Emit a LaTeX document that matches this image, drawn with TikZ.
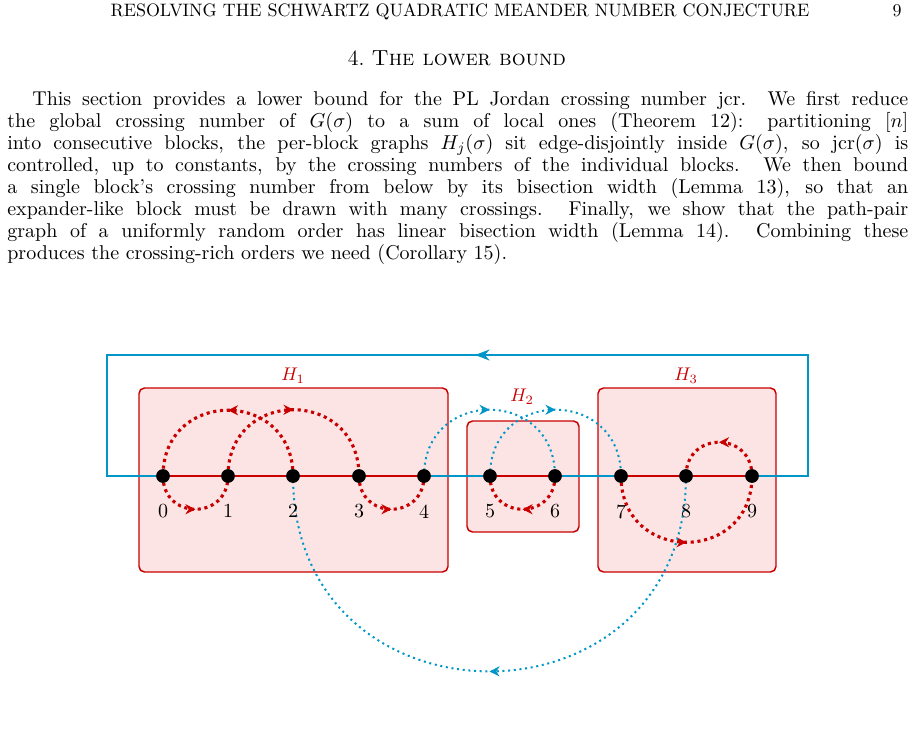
\documentclass[tikz,border=0pt]{standalone}
\usetikzlibrary{arrows.meta,decorations.markings}
\definecolor{hred}{RGB}{200,0,0}
\definecolor{hpink}{RGB}{253,228,228}
\definecolor{hblue}{RGB}{0,150,200}
\tikzset{
  vertex/.style={circle, fill=black, minimum size=7.5pt, inner sep=0pt},
  block/.style={draw=hred, fill=hpink, line width=0.8pt, rounded corners=3pt},
  midarrow/.style={postaction={decorate}, decoration={markings, mark=at position 0.5 with {\arrow[solid]{Stealth[length=5.5pt,width=5.5pt]}}}},
  redarc/.style={hred, line width=1.7pt, dotted, midarrow},
  bluearc/.style={hblue, line width=1.1pt, dotted, midarrow},
}
\begin{document}
\begin{tikzpicture}[x=0.545pt, y=-0.545pt, >=Stealth]
  \useasboundingbox (0,0) rectangle (914,742);

  % page text
  \node[anchor=base, font=\fontsize{9.8}{12}\selectfont] (head) at (460,16) {RESOLVING THE SCHWARTZ QUADRATIC MEANDER NUMBER CONJECTURE};
  \node[anchor=base east, font=\fontsize{9.8}{12}\selectfont] (page) at (908,16) {9};
  \node[anchor=base, font=\fontsize{11.9}{14}\selectfont] (sec) at (457,65) {4.\ \textsc{The lower bound}};
  \node[anchor=north west, inner sep=0pt, text width=491pt, align=justify, font=\fontsize{10.9}{12}\selectfont] (para) at (7,91) {%
    \hspace*{13.6pt}This section provides a lower bound for the PL Jordan crossing number jcr. We first reduce\linebreak
    the global crossing number of $G(\sigma)$ to a sum of local ones (Theorem 12): partitioning $[n]$\linebreak
    into consecutive blocks, the per-block graphs $H_j(\sigma)$ sit edge-disjointly inside $G(\sigma)$, so $\mathrm{jcr}(\sigma)$ is\linebreak
    controlled, up to constants, by the crossing numbers of the individual blocks. We then bound\linebreak
    a single block's crossing number from below by its bisection width (Lemma 13), so that an\linebreak
    expander-like block must be drawn with many crossings. Finally, we show that the path-pair\linebreak
    graph of a uniformly random order has linear bisection width (Lemma 14). Combining these\linebreak
    produces the crossing-rich orders we need (Corollary 15).};

  % blocks
  \draw[block] (139,388) rectangle (448,572);
  \draw[block] (467,421) rectangle (579,532);
  \draw[block] (598,388) rectangle (776,572);
  \node[hred] (H1) at (293,376) {$H_1$};
  \node[hred] (H2) at (522,397) {$H_2$};
  \node[hred] (H3) at (686,376) {$H_3$};

  % vertices
  \foreach \i/\x in {0/163,1/228,2/293,3/359,4/424,5/490,6/555,7/621,8/686,9/752}
    \coordinate (v\i) at (\x,476);
  \coordinate (c1) at (808,476);
  \coordinate (c2) at (808,355);
  \coordinate (c3) at (107,355);
  \coordinate (c4) at (107,476);

  % blue outer path
  \draw[hblue, line width=1.1pt] (v9) -- (c1) -- (c2) -- (c3) -- (c4) -- (v0);
  \draw[hblue, line width=1.1pt, ->] (c2) -- (475,355);
  \draw[hblue, line width=1.1pt] (v0) -- (v9);

  % red dotted arcs
  \draw[redarc] (v2) to[out=90, in=90, looseness=1.73] (v0);
  \draw[redarc] (v1) to[out=90, in=90, looseness=1.73] (v3);
  \draw[redarc] (v0) to[out=-90, in=-90, looseness=1.75] (v1);
  \draw[redarc] (v3) to[out=-90, in=-90, looseness=1.75] (v4);
  \draw[redarc] (v6) to[out=-90, in=-90, looseness=1.75] (v5);
  \draw[redarc] (v7) to[out=-90, in=-90, looseness=1.73] (v9);
  \draw[redarc] (v9) to[out=90, in=90, looseness=1.75] (v8);

  % blue dotted arcs
  \draw[bluearc] (v4) to[out=90, in=90, looseness=1.73] (v6);
  \draw[bluearc] (v5) to[out=90, in=90, looseness=1.73] (v7);
  \draw[bluearc] (v8) to[out=-90, in=-90, looseness=1.7] (v2);

  % red block edges
  \draw[hred, line width=1.1pt] (v0) -- (v4);
  \draw[hred, line width=1.1pt] (v5) -- (v6);
  \draw[hred, line width=1.1pt] (v7) -- (v9);

  \foreach \i in {0,...,9} {
    \node[vertex] (n\i) at (v\i) {};
    \node[below=12pt, font=\fontsize{10.9}{12}\selectfont] (l\i) at (v\i) {\i};
  }
\end{tikzpicture}
\end{document}
